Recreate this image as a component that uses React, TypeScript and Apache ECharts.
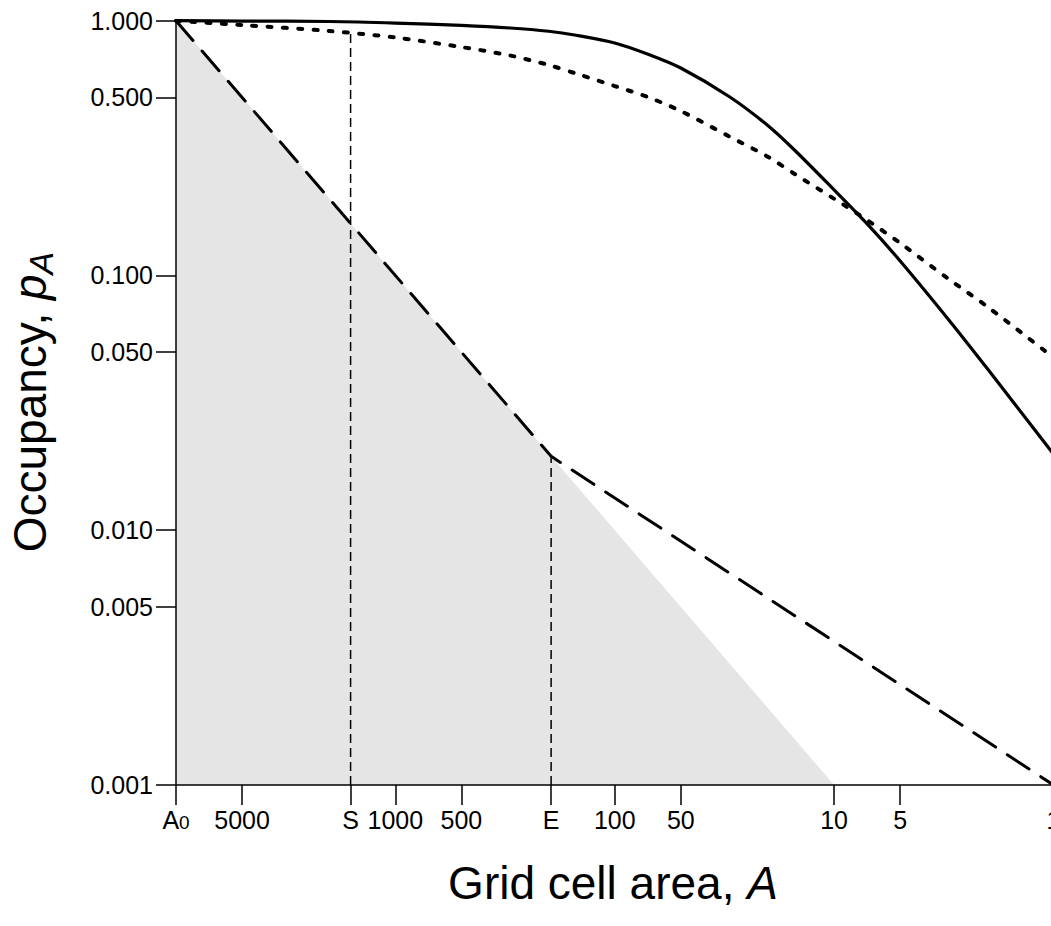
import React, { useEffect, useRef } from 'react';
import * as echarts from 'echarts';

// ---- data ----
const AREA = [10000, 5000, 2000, 1000, 500, 300, 200, 150, 100, 70, 50, 30, 20, 15, 10, 7, 5, 3, 2, 1];
const SOLID_P = [1, 0.997, 0.993, 0.979, 0.958, 0.936, 0.909, 0.877, 0.818, 0.737, 0.652, 0.503, 0.387, 0.308, 0.2166, 0.1579, 0.114, 0.0669, 0.043, 0.0199];
const DOTTED_P = [1, 0.962, 0.911, 0.859, 0.788, 0.73, 0.67, 0.62, 0.554, 0.5, 0.442, 0.351, 0.292, 0.249, 0.2, 0.164, 0.134, 0.0967, 0.0754, 0.0476];

const DASH_A = [10000, 195, 1];
const DASH_P = [1, 0.0195, 0.001];

const SHADE_A = [10000, 10];
const SHADE_P = [1, 0.001];

const S_AREA = 1600;
const S_TOP = 0.899;
const E_AREA = 195;
const E_TOP = 0.0195;
const P_MIN = 0.001;

const X_TICKS = [10000, 5000, 1600, 1000, 500, 195, 100, 50, 10, 5, 1];
const X_TICK_LABELS = ['A0', '5000', 'S', '1000', '500', 'E', '100', '50', '10', '5', '1'];
const Y_TICKS = [1, 0.5, 0.1, 0.05, 0.01, 0.005, 0.001];
const Y_TICK_LABELS = ['1.000', '0.500', '0.100', '0.050', '0.010', '0.005', '0.001'];

const X_TITLE = 'Grid cell area, ';
const X_TITLE_VAR = 'A';
const Y_TITLE = 'Occupancy, ';
const Y_TITLE_VAR = 'p';
const Y_TITLE_SUB = 'A';

const FONT = '"Liberation Sans", Arial, Helvetica, sans-serif';

function pairs(xs: number[], ys: number[]) {
  return xs.map((x, i) => [x, ys[i]]);
}

function nearestIndex(arr: number[], v: number) {
  let bi = 0;
  let bd = Infinity;
  arr.forEach((a, i) => {
    const d = Math.abs(a - v);
    if (d < bd) {
      bd = d;
      bi = i;
    }
  });
  return bi;
}

export default function App() {
  const ref = useRef<HTMLDivElement>(null);

  useEffect(() => {
    if (!ref.current) return;
    const chart = echarts.init(ref.current, null, { renderer: 'svg' });

    const xTickPos = X_TICKS.map((v) => Math.log10(v));
    const yTickPos = Y_TICKS.map((v) => Math.log10(v));

    const blackLine = { color: '#000', width: 1.5 };

    const option: any = {
      animation: false,
      backgroundColor: '#fff',
      grid: {
        left: 176,
        top: 20.7,
        width: 877.5,
        height: 764.3,
        containLabel: false,
        outerBoundsMode: 'none',
      },
      xAxis: [
        {
          type: 'log',
          logBase: 10,
          min: 1,
          max: 10000,
          inverse: true,
          z: 5,
          axisLine: { show: true, onZero: false, lineStyle: blackLine },
          axisTick: { show: false },
          axisLabel: { show: false },
          splitLine: { show: false },
        },
        {
          type: 'value',
          min: 0,
          max: 4,
          inverse: true,
          position: 'bottom',
          z: 5,
          axisLine: { show: false, onZero: false },
          splitLine: { show: false },
          axisTick: {
            show: true,
            customValues: xTickPos,
            length: 20,
            inside: false,
            lineStyle: blackLine,
          },
          axisLabel: {
            show: true,
            customValues: xTickPos,
            margin: 22,
            fontSize: 25,
            color: '#000',
            fontFamily: FONT,
            verticalAlign: 'top',
            formatter: (v: number) => {
              const lab = X_TICK_LABELS[nearestIndex(xTickPos, v)];
              if (lab === 'A0') return '{a|A}{s|0}';
              return lab;
            },
            rich: {
              a: { fontSize: 25, fontFamily: FONT, color: '#000', lineHeight: 25, verticalAlign: 'top' },
              s: {
                fontSize: 19,
                fontFamily: FONT,
                color: '#000',
                lineHeight: 19,
                verticalAlign: 'bottom',
                padding: [9, 0, 0, 0],
              },
            },
          },
        },
      ],
      yAxis: [
        {
          type: 'log',
          logBase: 10,
          min: 0.001,
          max: 1,
          z: 5,
          axisLine: { show: true, onZero: false, lineStyle: blackLine },
          axisTick: { show: false },
          axisLabel: { show: false },
          splitLine: { show: false },
        },
        {
          type: 'value',
          min: -3,
          max: 0,
          position: 'left',
          z: 5,
          axisLine: { show: false, onZero: false },
          splitLine: { show: false },
          axisTick: {
            show: true,
            customValues: yTickPos,
            length: 20,
            inside: false,
            lineStyle: blackLine,
          },
          axisLabel: {
            show: true,
            customValues: yTickPos,
            margin: 23,
            fontSize: 25,
            color: '#000',
            fontFamily: FONT,
            formatter: (v: number) => Y_TICK_LABELS[nearestIndex(yTickPos, v)],
          },
        },
      ],
      series: [
        {
          name: 'shade',
          type: 'line',
          xAxisIndex: 0,
          yAxisIndex: 0,
          data: pairs(SHADE_A, SHADE_P),
          showSymbol: false,
          symbol: 'none',
          lineStyle: { width: 0, opacity: 0 },
          areaStyle: { color: '#e5e5e5', opacity: 1, origin: 'start' },
          z: 1,
        },
        {
          name: 'S marker',
          type: 'line',
          xAxisIndex: 0,
          yAxisIndex: 0,
          data: [
            [S_AREA, P_MIN],
            [S_AREA, S_TOP],
          ],
          symbol: 'none',
          lineStyle: { color: '#000', width: 1.5, type: [9, 5] },
          z: 2,
        },
        {
          name: 'E marker',
          type: 'line',
          xAxisIndex: 0,
          yAxisIndex: 0,
          data: [
            [E_AREA, P_MIN],
            [E_AREA, E_TOP],
          ],
          symbol: 'none',
          lineStyle: { color: '#000', width: 1.5, type: [9, 5] },
          z: 2,
        },
        {
          name: 'dashed',
          type: 'line',
          xAxisIndex: 0,
          yAxisIndex: 0,
          data: pairs(DASH_A, DASH_P),
          symbol: 'none',
          lineStyle: { color: '#000', width: 3, type: [26, 14], cap: 'round' },
          z: 3,
        },
        {
          name: 'dotted',
          type: 'line',
          xAxisIndex: 0,
          yAxisIndex: 0,
          data: pairs(AREA, DOTTED_P),
          symbol: 'none',
          smooth: 0.3,
          lineStyle: { color: '#000', width: 4, type: [4, 11.3], cap: 'round' },
          z: 3,
        },
        {
          name: 'solid',
          type: 'line',
          xAxisIndex: 0,
          yAxisIndex: 0,
          data: pairs(AREA, SOLID_P),
          symbol: 'none',
          smooth: 0.3,
          lineStyle: { color: '#000', width: 3.2 },
          z: 3,
        },
      ],
      graphic: [
        {
          type: 'text',
          x: 613,
          y: 883,
          style: {
            text: '{n|' + X_TITLE + '}{i|' + X_TITLE_VAR + '}',
            align: 'center',
            verticalAlign: 'middle',
            rich: {
              n: { fontSize: 46, fontFamily: FONT, fill: '#000' },
              i: { fontSize: 46, fontFamily: FONT, fontStyle: 'italic', fill: '#000' },
            },
          },
        },
        {
          type: 'text',
          x: 30,
          y: 402,
          rotation: Math.PI / 2,
          style: {
            text: '{n|' + Y_TITLE + '}{i|' + Y_TITLE_VAR + '}{s|' + Y_TITLE_SUB + '}',
            align: 'center',
            verticalAlign: 'middle',
            rich: {
              n: { fontSize: 46, fontFamily: FONT, fill: '#000', lineHeight: 56 },
              i: { fontSize: 46, fontFamily: FONT, fontStyle: 'italic', fill: '#000', lineHeight: 56 },
              s: { fontSize: 34, fontFamily: FONT, fontStyle: 'italic', fill: '#000', lineHeight: 34, verticalAlign: 'bottom' },
            },
          },
        },
      ],
    };

    chart.setOption(option);
    return () => {
      chart.dispose();
    };
  }, []);

  return (
    <div
      ref={ref}
      style={{ position: 'fixed', left: 0, top: 0, width: 1051, height: 926, background: '#fff' }}
    />
  );
}
